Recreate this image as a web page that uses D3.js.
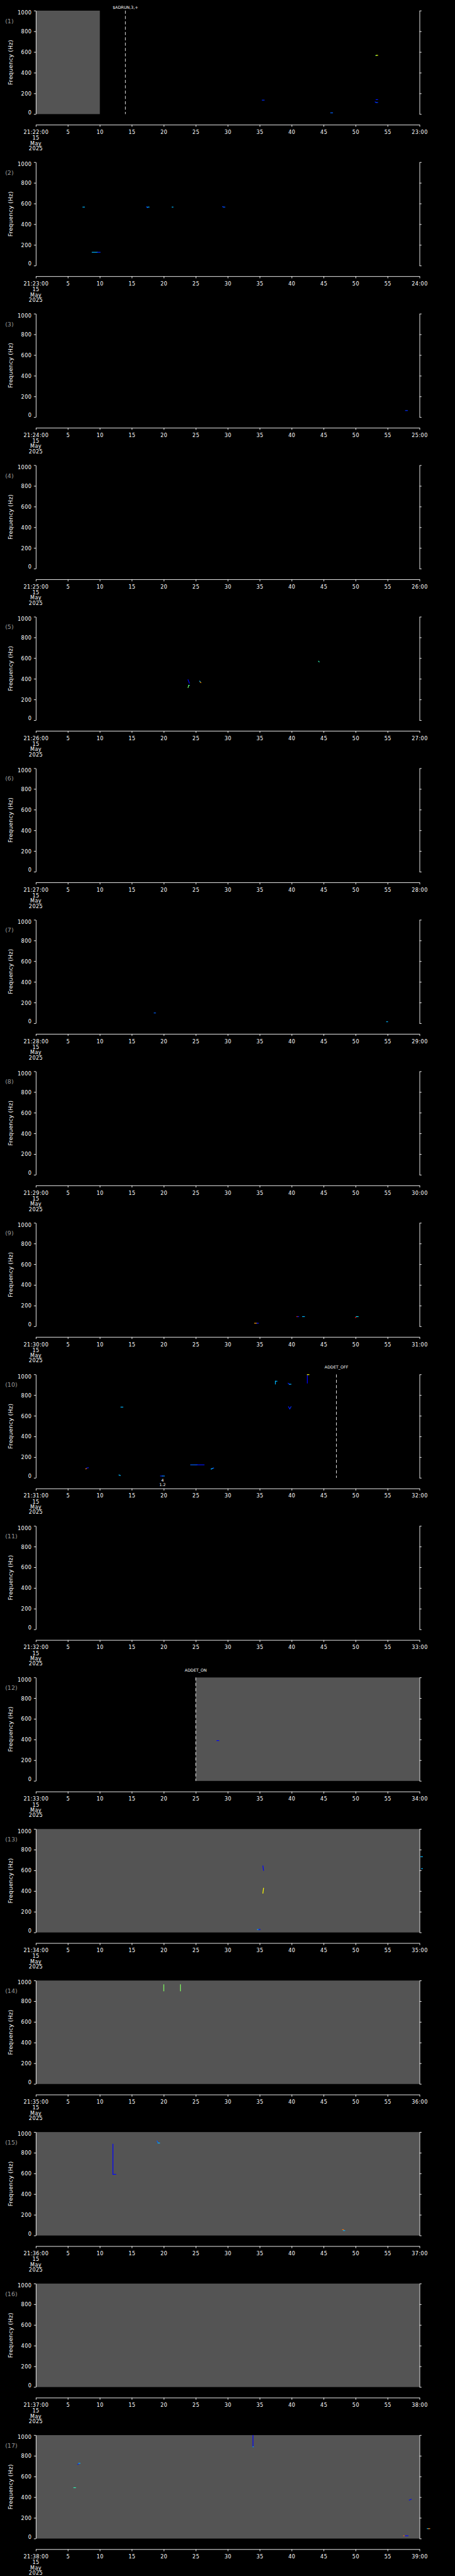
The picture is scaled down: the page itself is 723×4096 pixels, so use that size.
<!DOCTYPE html>
<html>
<head>
<meta charset="utf-8">
<script src="https://cdn.jsdelivr.net/npm/d3@7"></script>
<style>
  html, body { margin: 0; padding: 0; background: #000; }
  svg { display: block; }
  text { font-family: "DejaVu Sans", sans-serif; fill: #fff; }
</style>
</head>
<body>
<svg id="chart"></svg>
<script>
// one panel per minute, 15 May 2025
const panelStart = ["21:22:00", "21:23:00", "21:24:00", "21:25:00", "21:26:00", "21:27:00",
  "21:28:00", "21:29:00", "21:30:00", "21:31:00", "21:32:00", "21:33:00", "21:34:00",
  "21:35:00", "21:36:00", "21:37:00", "21:38:00"];
const panelEnd = ["23:00", "24:00", "25:00", "26:00", "27:00", "28:00", "29:00", "30:00",
  "31:00", "32:00", "33:00", "34:00", "35:00", "36:00", "37:00", "38:00", "39:00"];
const dateLines = ["15", "May", "2025"];

const yTicks = [0, 200, 400, 600, 800, 1000];
const xTicks = [0, 5, 10, 15, 20, 25, 30, 35, 40, 45, 50, 55, 60];
const xTickText = ["", "5", "10", "15", "20", "25", "30", "35", "40", "45", "50", "55", ""];

// [panel, from s, to s] where the detector is on (grey background)
const coverage = [[1, 0, 10], [12, 25, 60], [13, 0, 60], [14, 0, 60], [15, 0, 60], [16, 0, 60], [17, 0, 60]];

// commands: panel, second, text
const eventPanel = [1, 10, 12];
const eventSec = [14, 47, 25];
const eventText = ["$ADRUN,3,+", "ADDET_OFF", "ADDET_ON"];

// small annotations under a detection: panel, second, lines
const notes = [[10, 19.8, ["4", "1.2"]]];

// detections: [panel, t0 (s), f0 (Hz), t1 (s), f1 (Hz), level 0..1]
const marks = [
  [1, 53.15, 566, 53.25, 566, 0.5], [1, 53.25, 568, 53.45, 568, 0.65],
  [1, 53.2, 140, 53.45, 140, 0.05],
  [1, 53.05, 118, 53.2, 112, 0.05], [1, 53.2, 112, 53.45, 112, 0.15],
  [1, 46.1, 12, 46.4, 12, 0.2],
  [1, 35.4, 135, 35.7, 135, 0.1],
  [2, 7.35, 566, 7.6, 566, 0.3],
  [2, 8.8, 129, 9.6, 129, 0.3], [2, 9.6, 129, 10.05, 129, 0.1],
  [2, 17.3, 568, 17.45, 560, 0.1], [2, 17.45, 566, 17.7, 566, 0.3],
  [2, 21.3, 566, 21.45, 566, 0.3],
  [2, 29.2, 570, 29.35, 566, 0.1], [2, 29.35, 566, 29.55, 566, 0.2],
  [3, 57.8, 64, 58.1, 64, 0.1],
  [5, 23.8, 391, 24.0, 358, 0.02],
  [5, 23.8, 315, 23.9, 337, 0.55], [5, 23.9, 337, 24.0, 337, 0.45],
  [5, 25.6, 378, 25.7, 372, 0.3], [5, 25.7, 368, 25.8, 364, 0.8],
  [5, 44.2, 571, 44.3, 564, 0.45],
  [7, 18.5, 100, 18.7, 100, 0.2],
  [7, 54.85, 15, 55.0, 15, 0.3],
  [9, 34.2, 30, 34.55, 30, 0.8], [9, 34.55, 30, 34.8, 30, 0.05],
  [9, 40.8, 94, 40.95, 94, 0.95], [9, 40.95, 94, 41.1, 94, 0.05],
  [9, 41.7, 94, 42.0, 94, 0.3],
  [9, 49.95, 84, 50.1, 90, 1.0], [9, 50.1, 94, 50.4, 94, 0.35],
  [10, 7.8, 87, 7.95, 92, 0.85], [10, 7.95, 95, 8.2, 98, 0.05],
  [10, 13.0, 28, 13.2, 23, 0.3],
  [10, 13.3, 684, 13.6, 684, 0.3],
  [10, 19.5, 18, 19.8, 18, 0.1], [10, 19.8, 18, 20.1, 18, 0.25],
  [10, 24.2, 126, 25.2, 126, 0.2], [10, 25.2, 126, 26.3, 126, 0.05],
  [10, 27.4, 85, 27.6, 90, 0.3], [10, 27.6, 92, 27.8, 95, 0.2],
  [10, 37.45, 907, 37.45, 934, 0.3], [10, 37.45, 934, 37.7, 934, 0.3],
  [10, 39.45, 915, 39.65, 905, 0.05], [10, 39.65, 905, 39.9, 905, 0.3],
  [10, 39.5, 688, 39.7, 667, 0.05], [10, 39.7, 667, 39.9, 688, 0.1],
  [10, 42.45, 917, 42.45, 995, 0.0], [10, 42.45, 998, 42.7, 998, 0.65],
  [12, 28.3, 390, 28.6, 390, 0.0],
  [13, 35.5, 643, 35.6, 600, 0.0],
  [13, 35.5, 380, 35.6, 428, 0.65],
  [13, 34.65, 28, 34.85, 28, 0.3], [13, 34.85, 28, 35.06, 28, 0.0],
  [13, 60.2, 732, 60.45, 732, 0.3],
  [13, 60.3, 617, 60.45, 617, 0.3],
  [14, 20.0, 900, 20.0, 960, 0.55],
  [14, 22.6, 900, 22.6, 960, 0.55],
  [15, 12.05, 883, 12.05, 591, 0.0], [15, 12.05, 591, 12.5, 591, 0.02],
  [15, 18.95, 914, 19.1, 898, 0.2], [15, 19.1, 894, 19.35, 894, 0.3],
  [15, 47.95, 56, 48.1, 56, 0.85], [15, 48.1, 48, 48.3, 48, 0.3],
  [17, 33.95, 998, 33.95, 887, 0.0], [17, 33.95, 887, 34.0, 887, 0.3],
  [17, 6.55, 717, 6.7, 722, 0.05], [17, 6.7, 728, 6.9, 728, 0.3],
  [17, 5.93, 492, 6.2, 492, 0.45],
  [17, 58.4, 372, 58.7, 380, 0.02],
  [17, 57.5, 27, 57.7, 27, 0.85], [17, 57.7, 27, 58.2, 27, 0.02],
  [17, 61.2, 96, 61.4, 96, 0.3], [17, 61.4, 96, 61.6, 96, 0.85]
];

const W = 1024, H = 5802;
const N = panelStart.length;
const pitch = H / N;
const plotTop = 24, plotBottom = 257, axisY = 281;

const svg = d3.select("#chart")
  .attr("width", 723)
  .attr("height", 4096)
  .attr("viewBox", `0 0 ${W} ${H}`)
  .style("background", "#000");

const x = d3.scaleLinear().domain([0, 60]).range([80.7, 944.3]);
const y = d3.scaleLinear().domain([0, 1000]).range([plotBottom, plotTop]);
const color = d3.scaleLinear()
  .domain([0, 0.18, 0.33, 0.5, 0.65, 0.82, 1])
  .range(["#0000ff", "#0050ff", "#00d0ff", "#40ff90", "#ffff00", "#ff9000", "#ff0000"]);

const panels = svg.selectAll("g.panel")
  .data(panelStart)
  .join("g")
  .attr("class", "panel")
  .attr("transform", (d, i) => `translate(0,${i * pitch})`);

panels.each(function (start, i) {
  const g = d3.select(this);
  const p = i + 1;

  // grey where detector is running
  g.selectAll("rect.cov")
    .data(coverage.filter(c => c[0] === p))
    .join("rect")
    .attr("class", "cov")
    .attr("x", d => x(d[1]))
    .attr("width", d => x(d[2]) - x(d[1]))
    .attr("y", y(1000))
    .attr("height", y(0) - y(1000))
    .attr("fill", "#545454");

  // detections
  g.selectAll("line.mark")
    .data(marks.filter(m => m[0] === p))
    .join("line")
    .attr("class", "mark")
    .attr("x1", d => x(d[1]))
    .attr("y1", d => y(d[2]))
    .attr("x2", d => x(d[3]))
    .attr("y2", d => y(d[4]))
    .attr("stroke", d => color(d[5]))
    .attr("stroke-width", 1.7)
    .attr("stroke-linecap", "square");

  // commands: dashed line + label
  eventPanel.forEach((ep, k) => {
    if (ep !== p) return;
    g.append("line")
      .attr("x1", x(eventSec[k])).attr("x2", x(eventSec[k]))
      .attr("y1", y(1000)).attr("y2", y(0))
      .attr("stroke", "#fff")
      .attr("stroke-width", 1.3)
      .attr("stroke-dasharray", "7,5");
    const by = Math.max(plotTop - 13.2 + i * pitch, 19.3) - i * pitch;
    g.append("text")
      .attr("x", x(eventSec[k]))
      .attr("y", by)
      .attr("text-anchor", "middle")
      .attr("font-size", 9)
      .text(eventText[k]);
  });

  notes.filter(n => n[0] === p).forEach(n => {
    n[2].forEach((s, j) => {
      g.append("text")
        .attr("x", x(n[1]))
        .attr("y", 265.7 + j * 10)
        .attr("text-anchor", "middle")
        .attr("font-size", 9)
        .text(s);
    });
  });

  // left axis
  const left = g.append("g").attr("transform", `translate(${x(0)},0)`);
  left.call(d3.axisLeft(y).tickValues(d3.range(0, 1001, 50)).tickSize(3).tickSizeOuter(0).tickFormat(""));
  left.call(d3.axisLeft(y).tickValues(yTicks).tickSize(4.5).tickSizeOuter(0).tickFormat(d3.format("d")));
  left.selectAll("text")
    .attr("x", -9.5)
    .attr("dy", null)
    .attr("y", d => Math.min(Math.max(y(d), plotTop + 4.2), plotBottom - 4.6) - y(d) + 4.2)
    .attr("font-size", 11.5)
    .attr("letter-spacing", 0.6)
    .attr("font-family", "DejaVu Sans")
    .attr("fill", "#fff");

  // right axis (no labels)
  const right = g.append("g").attr("transform", `translate(${x(60)},0)`);
  right.call(d3.axisRight(y).tickValues(d3.range(0, 1001, 50)).tickSize(2.5).tickSizeOuter(0).tickFormat(""));
  right.call(d3.axisRight(y).tickValues(yTicks).tickSize(4.5).tickSizeOuter(0).tickFormat(""));

  // time axis
  const bottom = g.append("g").attr("transform", `translate(0,${axisY})`);
  bottom.call(d3.axisBottom(x).tickValues(d3.range(0, 61, 1)).tickSize(2.5).tickSizeOuter(0).tickFormat(""));
  bottom.call(d3.axisBottom(x).tickValues(xTicks).tickSize(4.5).tickSizeOuter(0)
    .tickFormat((d, k) => k === 0 ? start : k === xTicks.length - 1 ? panelEnd[i] : xTickText[k]));
  bottom.selectAll("text")
    .attr("y", 20.7)
    .attr("dy", null)
    .attr("font-size", 11.5)
    .attr("letter-spacing", 0.6)
    .attr("font-family", "DejaVu Sans")
    .attr("fill", "#fff");
  dateLines.forEach((s, j) => {
    bottom.append("text")
      .attr("x", x(0))
      .attr("y", 33.7 + j * 11.9)
      .attr("text-anchor", "middle")
      .attr("font-size", 11.5)
      .attr("letter-spacing", 0.6)
      .text(s);
  });

  g.selectAll(".domain, .tick line")
    .attr("stroke", "#fff")
    .attr("stroke-width", 1.3);

  // panel number and axis title
  g.append("text")
    .attr("x", 11.5)
    .attr("y", 52)
    .attr("font-size", 13.5)
    .style("fill", "#9a9a9a")
    .text(`(${p})`);

  g.append("text")
    .attr("transform", `translate(28,140.5) rotate(-90)`)
    .attr("text-anchor", "middle")
    .attr("font-size", 13)
    .attr("letter-spacing", 0.3)
    .text("Frequency (Hz)");
});
</script>
</body>
</html>
